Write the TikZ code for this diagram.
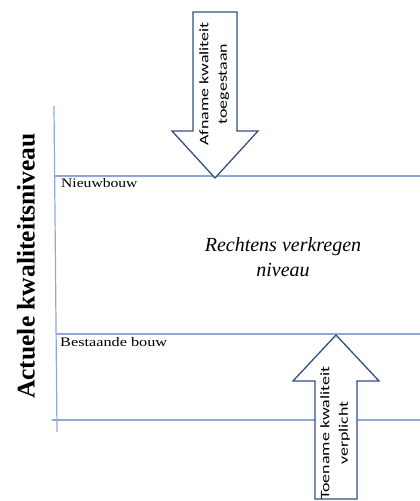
\documentclass[tikz,border=0pt]{standalone}
\usepackage{fontspec}
\setmainfont{Liberation Serif}
\newfontfamily\arrowfont{Carlito}
\begin{document}
\begin{tikzpicture}[x=1pt,y=-1pt,
  guide/.style={line width=1.2pt, draw={rgb,255:red,143;green,170;blue,210}},
  bigarrow/.style={draw={rgb,255:red,52;green,80;blue,130}, line width=1.3pt, fill=white, line join=miter},
  arrowtext/.style={font=\arrowfont\fontsize{13}{13.5}\selectfont, rotate=90, inner sep=0pt},
  lvl/.style={font=\fontsize{13}{13}\selectfont, anchor=north west, inner sep=0pt}]
\useasboundingbox (0,0) rectangle (420,501);
% axes and levels
\coordinate (axtop) at (54,106);
\coordinate (axbot) at (57,432);
\coordinate (nl) at (55,176);
\coordinate (nr) at (420,176);
\coordinate (bl) at (56,334);
\coordinate (br) at (420,334);
\coordinate (al) at (52,420);
\coordinate (ar) at (420,420);
\draw[guide] (axtop) -- (axbot);
\draw[guide] (nl) -- (nr);
\draw[guide] (bl) -- (br);
\draw[guide] (al) -- (ar);
\node[lvl] (nieuw) at (61,178) {\scalebox{1.2}[1]{Nieuwbouw}};
\node[lvl] (best) at (60,337) {\scalebox{1.25}[1]{Bestaande bouw}};
\node[rotate=90, font=\bfseries\fontsize{25.5}{25.5}\selectfont, inner sep=0pt] (ylab) at (26,266) {Actuele kwaliteitsniveau};
\node[font=\itshape\fontsize{20}{25}\selectfont, align=center, inner sep=0pt] (mid) at (283,257) {Rechtens verkregen\\niveau};
% top arrow (down)
\draw[bigarrow] (193,12) -- (237,12) -- (237,131) -- (258,131) -- (215,178) -- (172,131) -- (193,131) -- cycle;
\node[arrowtext] (afname) at (215,84) {\scalebox{1.38}[1]{\begin{tabular}{@{}c@{}}Afname kwaliteit\\[5pt]toegestaan\end{tabular}}};
% bottom arrow (up)
\draw[bigarrow] (315,499) -- (315,381) -- (293,381) -- (336,335) -- (379,381) -- (357,381) -- (357,499) -- cycle;
\node[arrowtext] (toename) at (336,433) {\scalebox{1.38}[1]{\begin{tabular}{@{}c@{}}Toename kwaliteit\\[5pt]verplicht\end{tabular}}};
\end{tikzpicture}
\end{document}
